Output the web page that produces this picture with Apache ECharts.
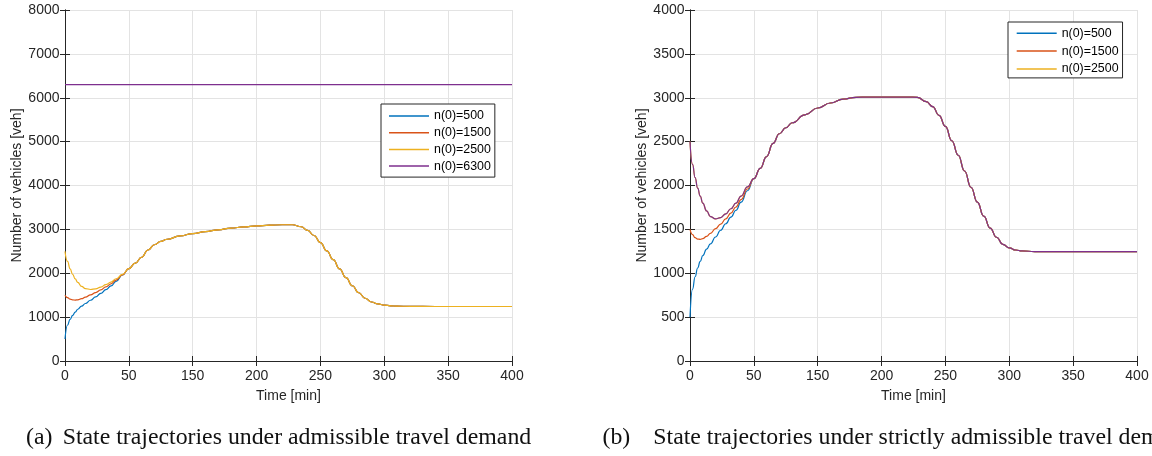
<!DOCTYPE html>
<html>
<head>
<meta charset="utf-8">
<title>State trajectories</title>
<script src="https://cdn.jsdelivr.net/npm/echarts@6/dist/echarts.min.js"></script>
<style>
html, body { margin: 0; padding: 0; background: #fff; }
#chart { width: 1152px; height: 456px; }
</style>
</head>
<body>
<div id="chart"></div>
<script>
// sample points on the time axis (axis units, ticks every 50)
var tHead = [0, 2, 4, 6, 8, 10, 13, 16, 20, 24, 28, 32, 36, 40, 45];
var tTail = [50, 55, 60, 65, 70, 75, 80, 90, 100, 110, 120, 130, 140, 150, 160, 170, 178,
             185, 190, 195, 200, 205, 210, 215, 220, 225, 230, 235, 240, 245, 250, 255, 260,
             270, 280, 300, 320, 350];
// tick labels as printed under the x axis (no "100" in the figure)
var xTickLabels = ['0', '50', '150', '200', '250', '300', '350', '400'];

// (a) admissible demand: start of each trajectory, then the shared part
var a500  = [500, 820, 950, 1040, 1115, 1180, 1250, 1310, 1385, 1460, 1540, 1625, 1710, 1815, 1960];
var a1500 = [1500, 1445, 1410, 1392, 1388, 1395, 1420, 1455, 1505, 1560, 1620, 1690, 1760, 1845, 1965];
var a2500 = [2500, 2270, 2100, 1975, 1870, 1790, 1700, 1650, 1630, 1645, 1685, 1740, 1800, 1875, 1975];
var aShared = [2105, 2230, 2365, 2530, 2650, 2725, 2775, 2850, 2905, 2950, 2990, 3030, 3055, 3080, 3095, 3105, 3105,
               3060, 2975, 2860, 2700, 2510, 2310, 2100, 1900, 1715, 1555, 1430, 1345, 1300, 1275, 1258, 1250,
               1245, 1243, 1242, 1242, 1242];
var tFlat = [0, 350];
var a6300 = [6300, 6300];

// (b) strictly admissible demand
var b500  = [500, 820, 960, 1060, 1135, 1200, 1275, 1335, 1413, 1490, 1564, 1640, 1718, 1810, 1940];
var b1500 = [1500, 1440, 1405, 1390, 1386, 1395, 1420, 1455, 1508, 1560, 1620, 1685, 1755, 1840, 1960];
var b2500 = [2500, 2240, 2090, 1970, 1880, 1800, 1710, 1645, 1620, 1635, 1677, 1735, 1800, 1880, 1985];
var bShared = [2078, 2195, 2330, 2480, 2590, 2658, 2715, 2805, 2883, 2940, 2985, 3005, 3008, 3008, 3008, 3008, 3005,
               2955, 2900, 2800, 2673, 2510, 2345, 2165, 1980, 1810, 1650, 1515, 1410, 1330, 1290, 1265, 1254,
               1247, 1246, 1246, 1246, 1246];

var names = ['n(0)=500', 'n(0)=1500', 'n(0)=2500', 'n(0)=6300'];
var colors = ['#0072BD', '#D95319', '#EDB120', '#7E2F8E'];
var INK = '#262626', GRIDC = '#e3e3e3', FONT = 'Liberation Sans';

var tAll = tHead.concat(tTail);
function pairs(xs, ys) {
    return xs.map(function (x, i) { return [x, ys[i]]; });
}
function line(name, idx, ys, color, xs) {
    return {
        name: name, type: 'line', xAxisIndex: idx, yAxisIndex: idx,
        data: pairs(xs || tAll, ys), showSymbol: false, smooth: 0.5, smoothMonotone: 'x',
        lineStyle: { width: 1.2, color: color }, itemStyle: { color: color }
    };
}
function bottomAxis(grid) {
    return {
        type: 'value', gridIndex: grid, min: 0, max: 350, interval: 50,
        axisLine: { show: true, lineStyle: { color: INK } },
        axisTick: { inside: true, length: 5, lineStyle: { color: INK } },
        axisLabel: { color: INK, fontFamily: FONT, fontSize: 14, margin: 8,
            formatter: function (v) { return xTickLabels[Math.round(v / 50)]; } },
        splitLine: { show: true, lineStyle: { color: GRIDC } },
        name: 'Time [min]', nameLocation: 'middle', nameGap: 28,
        nameTextStyle: { color: INK, fontFamily: FONT, fontSize: 14 }
    };
}
function topAxis(grid) {
    return {
        type: 'value', gridIndex: grid, position: 'top', min: 0, max: 350, interval: 50,
        axisLine: { show: true, lineStyle: { color: INK } },
        axisTick: { inside: true, length: 5, lineStyle: { color: INK } },
        axisLabel: { show: false }, splitLine: { show: false }
    };
}
function leftAxis(grid, max, step) {
    return {
        type: 'value', gridIndex: grid, min: 0, max: max, interval: step,
        axisLine: { show: true, lineStyle: { color: INK } },
        axisTick: { inside: true, length: 5, lineStyle: { color: INK } },
        axisLabel: { color: INK, fontFamily: FONT, fontSize: 14, margin: 5.5,
            formatter: function (v) { return String(v); } },
        splitLine: { show: true, lineStyle: { color: GRIDC } },
        name: 'Number of vehicles [veh]', nameLocation: 'middle', nameGap: 41,
        nameTextStyle: { color: INK, fontFamily: FONT, fontSize: 14 }
    };
}
function rightAxis(grid, max, step) {
    return {
        type: 'value', gridIndex: grid, position: 'right', min: 0, max: max, interval: step,
        axisLine: { show: true, lineStyle: { color: INK } },
        axisTick: { inside: true, length: 5, lineStyle: { color: INK } },
        axisLabel: { show: false }, splitLine: { show: false }
    };
}
function legendBox(left, top, data, pad, gap) {
    return {
        orient: 'vertical', left: left, top: top, data: data,
        icon: 'rect', itemWidth: 40, itemHeight: 1.5, itemTextGap: 5, itemGap: gap,
        padding: pad, borderColor: INK, borderWidth: 1, backgroundColor: '#fff',
        textStyle: { color: '#000', fontFamily: FONT, fontSize: 12.4, lineHeight: 15 }
    };
}
function caption(x, text) {
    return { type: 'text', x: x, y: 438,
        style: { text: text, fontFamily: 'Liberation Serif', fontSize: 23.8, fill: '#111', verticalAlign: 'middle' } };
}

var chart = echarts.init(document.getElementById('chart'));
var option = {
    animation: false,
    backgroundColor: '#fff',
    grid: [
        { left: 65, top: 10, width: 447, height: 351 },
        { left: 690, top: 10, width: 447, height: 351 }
    ],
    // 0: bottom (a), 1: top (a), 2: bottom (b), 3: top (b)
    xAxis: [bottomAxis(0), topAxis(0), bottomAxis(1), topAxis(1)],
    yAxis: [leftAxis(0, 8000, 1000), rightAxis(0, 8000, 1000), leftAxis(1, 4000, 500), rightAxis(1, 4000, 500)],
    legend: [
        legendBox(381, 104, names, [4.5, 4, 3.5, 8], 1.7),
        legendBox(1008, 22, names.slice(0, 3), [3.8, 4, 1.5, 8.7], 2.8)
    ],
    series: [
        line(names[0], 0, a500.concat(aShared), colors[0]),
        line(names[1], 0, a1500.concat(aShared), colors[1]),
        line(names[2], 0, a2500.concat(aShared), colors[2]),
        line(names[3], 0, a6300, colors[3], tFlat),
        line(names[0], 2, b500.concat(bShared), colors[0]),
        line(names[1], 2, b1500.concat(bShared), colors[1]),
        line(names[2], 2, b2500.concat(bShared), colors[2]),
        // extra purple run drawn over the 2500 curve in (b), not in its legend
        line('n(0)=2500 (b, top)', 2, b2500.concat(bShared), colors[3])
    ],
    graphic: [
        caption(26, '(a)'),
        caption(62.7, 'State trajectories under admissible travel demand'),
        caption(602.5, '(b)'),
        // runs past the right edge, as in the source figure
        caption(653.3, 'State trajectories under strictly admissible travel demand')
    ]
};
chart.setOption(option);
</script>
</body>
</html>
